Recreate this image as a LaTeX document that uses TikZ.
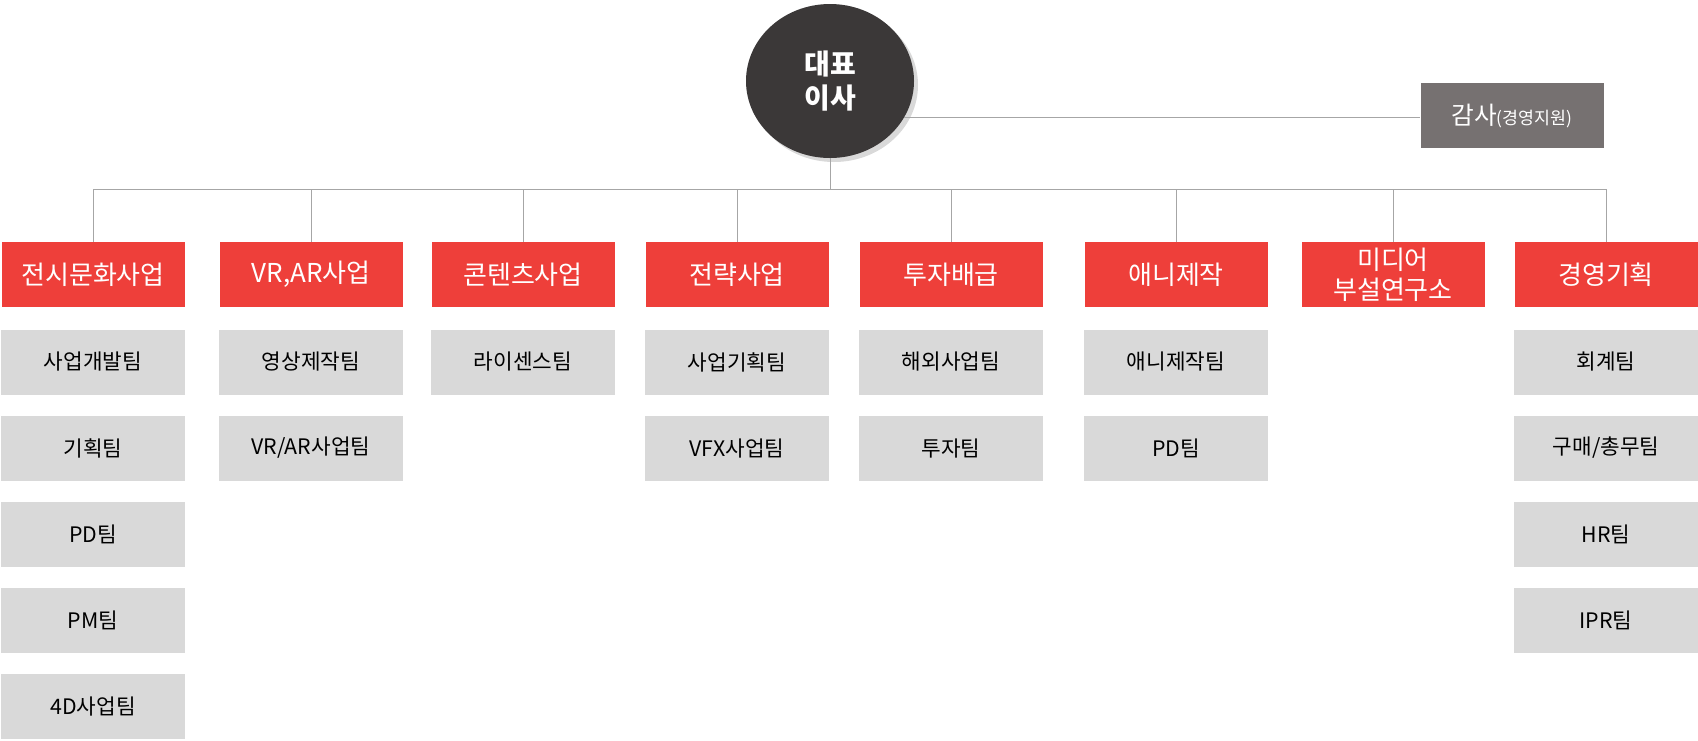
\documentclass[tikz,border=0pt]{standalone}
\usepackage{fontspec}
\setmainfont{Noto Sans CJK KR}
\usetikzlibrary{positioning}
\usetikzlibrary{shapes.geometric}
\usetikzlibrary{shadows}
\usetikzlibrary{calc}

\definecolor{bossgray}{HTML}{3B3838}
\definecolor{auditgray}{HTML}{767171}
\definecolor{deptred}{HTML}{EE3F3A}
\definecolor{teamgray}{HTML}{D9D9D9}
\definecolor{linegray}{HTML}{A6A6A6}

\begin{document}
\begin{tikzpicture}[
      x = 0.75pt, y = -0.75pt,
      boss/.style = {
        ellipse, fill = bossgray, text = white,
        minimum width = 126pt, minimum height = 115.5pt,
        align = center, font = \fontsize{21}{26}\selectfont\bfseries,
        drop shadow = {opacity = 0.3, shadow xshift = 3pt, shadow yshift = -3pt}
      },
      audit/.style = {
        rectangle, fill = auditgray, text = white,
        minimum width = 137.25pt, minimum height = 48.75pt,
        font = \fontsize{18.5}{22}\selectfont
      },
      dept/.style = {
        rectangle, fill = deptred, text = white,
        minimum width = 137.25pt, minimum height = 48.75pt,
        align = center, font = \fontsize{19.5}{22.5}\selectfont
      },
      team/.style = {
        rectangle, fill = teamgray, text = black,
        minimum width = 138pt, minimum height = 48.75pt,
        font = \fontsize{16}{18}\selectfont
      },
      link/.style = { draw = linegray, line width = 0.7pt },
    ]

    \useasboundingbox (0,0) rectangle (1698,740);

    \node[boss] (CEO) at (830,81) {대표\\이사};
    \node[audit] (AUD) at (1512,115.5) {감사{\fontsize{13}{16}\selectfont(경영지원)}};

    \foreach \x/\t [count=\i] in {93/전시문화사업, 311/{VR,AR사업}, 523/콘텐츠사업, 737/전략사업, 951/투자배급, 1176/애니제작, 1393/미디어\\부설연구소, 1606/경영기획} {
      \node[dept] (D\i) at (\x,274.5) {\t};
    }

    \foreach \c/\r/\t in {1/1/사업개발팀, 1/2/기획팀, 1/3/PD팀, 1/4/PM팀, 1/5/4D사업팀,
                          2/1/영상제작팀, 2/2/{VR/AR사업팀},
                          3/1/라이센스팀,
                          4/1/사업기획팀, 4/2/VFX사업팀,
                          5/1/해외사업팀, 5/2/투자팀,
                          6/1/애니제작팀, 6/2/PD팀,
                          8/1/회계팀, 8/2/{구매/총무팀}, 8/3/HR팀, 8/4/IPR팀} {
      \node[team] (T\c-\r) at ($(D\c)+(0,{86*\r+1.5})$) {\t};
    }

    \coordinate (bus) at (0,189);
    \draw[link] (CEO.south) to (CEO.south |- bus);
    \draw[link] (D1 |- bus) to (D8 |- bus);
    \foreach \i in {1,...,8} {
      \draw[link] (D\i.north) to (D\i |- bus);
    }
    \draw[link] (CEO.-26) to (CEO.-26 -| AUD.west);
  \end{tikzpicture}
\end{document}
